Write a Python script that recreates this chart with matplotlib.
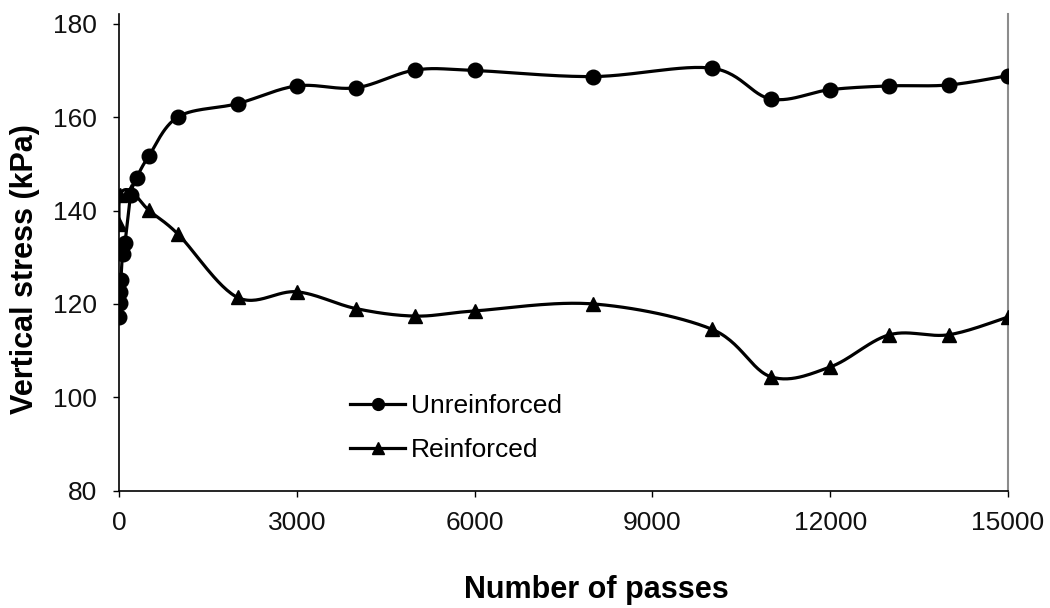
import numpy as np
import matplotlib
matplotlib.use("Agg")
import matplotlib.pyplot as plt
from matplotlib.lines import Line2D

# ---- data ----
unreinforced_x = [0, 10, 20, 30, 60, 100, 200, 300, 500, 1000, 2000, 3000, 4000, 5000,
                  6000, 8000, 10000, 11000, 12000, 13000, 14000, 15000]
unreinforced_y = [117.1, 120.2, 122.6, 125.1, 130.6, 133.0, 143.4, 147.0, 151.6, 160.1, 162.9,
                  166.7, 166.3, 170.1, 170.0, 168.7, 170.5, 163.9, 165.9, 166.7, 166.9, 168.9]
reinforced_x = [0, 20, 200, 500, 1000, 2000, 3000, 4000, 5000, 6000, 8000,
                10000, 11000, 12000, 13000, 14000, 15000]
reinforced_y = [137.2, 143.4, 144.2, 140.1, 134.9, 121.4, 122.6, 119.0, 117.4, 118.5, 120.0,
                114.6, 104.4, 106.5, 113.4, 113.4, 117.2]
series_names = ["Unreinforced", "Reinforced"]
x_ticks = [0, 3000, 6000, 9000, 12000, 15000]
y_ticks = [80, 100, 120, 140, 160, 180]

plt.rcParams['font.family'] = ['Liberation Sans', 'DejaVu Sans']

fig = plt.figure(figsize=(10.5, 6.08), dpi=100)
ax = fig.add_axes([119/1050, 1-490.7/608, (1008-119)/1050, (490.7-14)/608])
ax.set_xlim(0, 15000)
ax.set_ylim(80, 182.1)


def smooth(ax, xs, ys, n=30):
    pts = ax.transData.transform(np.column_stack([xs, ys]))
    P = np.vstack([pts[0], pts, pts[-1]])
    out = []
    for i in range(1, len(P) - 2):
        p0, p1, p2, p3 = P[i-1], P[i], P[i+1], P[i+2]
        c1 = p1 + (p2 - p0) / 6.0
        c2 = p2 - (p3 - p1) / 6.0
        t = np.linspace(0, 1, n)[:, None]
        seg = ((1-t)**3) * p1 + 3*((1-t)**2)*t*c1 + 3*(1-t)*(t**2)*c2 + (t**3)*p2
        out.append(seg if i == 1 else seg[1:])
    out = np.vstack(out)
    d = ax.transData.inverted().transform(out)
    return d[:, 0], d[:, 1]


lw = 2.3
for xs, ys, mk, ms in [(unreinforced_x, unreinforced_y, 'o', 10.5),
                       (reinforced_x, reinforced_y, '^', 10.5)]:
    sx, sy = smooth(ax, xs, ys)
    ax.plot(sx, sy, color='black', lw=lw, solid_capstyle='round', zorder=2)
    ax.plot(xs, ys, linestyle='none', marker=mk, ms=ms, color='black', zorder=3)

ax.set_xticks(x_ticks)
ax.set_yticks(y_ticks)
ax.tick_params(axis='both', direction='out', length=4.3, width=1, color='black',
               labelsize=19, labelcolor='#111111')
ax.tick_params(axis='x', pad=10)
ax.tick_params(axis='y', pad=11.5)

ax.spines['top'].set_visible(False)
ax.spines['right'].set_color('#8c8c8c')
ax.spines['right'].set_linewidth(1.5)
ax.spines['left'].set_linewidth(1.2)
ax.spines['bottom'].set_linewidth(1.2)

fig.text(596/1050, 1-590/608, "Number of passes", ha='center', va='center',
         fontsize=22, fontweight='bold')
fig.text(25/1050, 1-269/608, "Vertical stress (kPa)", ha='center', va='center',
         rotation=90, fontsize=22, fontweight='bold')

handles = [Line2D([], [], color='black', lw=lw, marker='o', ms=8.5),
           Line2D([], [], color='black', lw=lw, marker='^', ms=8.5)]
ax.legend(handles, series_names, loc='center left',
          bbox_to_anchor=(350/1050, 1-427.9/608), bbox_transform=fig.transFigure,
          frameon=False, fontsize=19, handlelength=2.1, handletextpad=0.2,
          labelspacing=0.75, borderpad=0, borderaxespad=0)

fig.savefig("out.png", dpi=100)
